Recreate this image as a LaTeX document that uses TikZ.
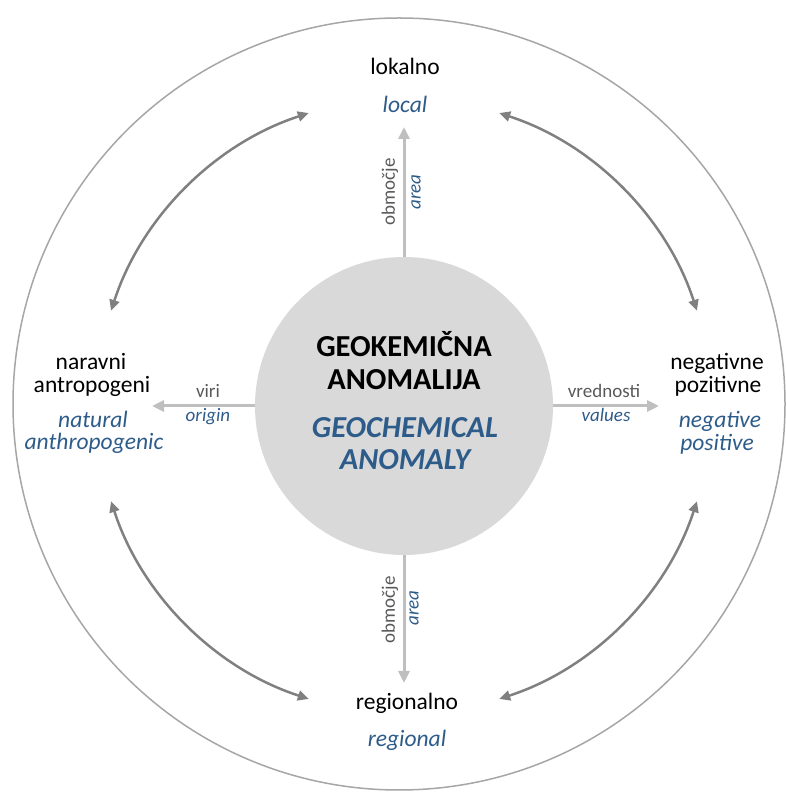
\documentclass[tikz,border=0pt]{standalone}
\usepackage{fontspec}
\setmainfont{Carlito}
\usetikzlibrary{arrows.meta,calc}
\definecolor{engblue}{RGB}{46,92,138}
\definecolor{smallgray}{RGB}{89,89,89}
\definecolor{lightarrow}{RGB}{191,191,191}
\definecolor{darkarrow}{RGB}{128,128,128}
\definecolor{corefill}{RGB}{217,217,217}
\definecolor{ringcol}{RGB}{166,166,166}
\tikzset{
  sl/.style={anchor=base, inner sep=0pt, text=black, font=\fontsize{23.5}{28}\selectfont},
  en/.style={anchor=base, inner sep=0pt, text=engblue, font=\fontsize{23.5}{28}\selectfont\itshape},
  smsl/.style={anchor=base, inner sep=0pt, text=smallgray, font=\fontsize{19}{23}\selectfont},
  smen/.style={anchor=base, inner sep=0pt, text=engblue, font=\fontsize{19}{23}\selectfont\itshape},
  rotsl/.style={inner sep=0pt, text=smallgray, font=\fontsize{19}{23}\selectfont, rotate=90},
  roten/.style={inner sep=0pt, text=engblue, font=\fontsize{19}{23}\selectfont\itshape, rotate=90},
  coresl/.style={anchor=base, inner sep=0pt, text=black, font=\fontsize{30.5}{34}\selectfont\bfseries},
  coreen/.style={anchor=base, inner sep=0pt, text=engblue, font=\fontsize{30.5}{34}\selectfont\bfseries\itshape},
  straightarrow/.style={draw=lightarrow, line width=3pt, -{Triangle[length=12pt,width=11pt]}},
  curvearrow/.style={draw=darkarrow, line width=2.5pt, {Triangle[length=11pt,width=10pt]}-{Triangle[length=11pt,width=10pt]}},
}
\begin{document}
\begin{tikzpicture}[x=1pt,y=1pt]
\useasboundingbox (0,0) rectangle (786,792);
% outer ring
\draw[ringcol, line width=1.5pt] (399,388) circle[radius=386];
% core
\coordinate (C) at (404,386);
\node[circle, fill=corefill, minimum size=298pt, inner sep=0pt] (core) at (C) {};
\node[coresl] (c1) at (404,435) {GEOKEMIČNA};
\node[coresl] (c2) at (404,402) {ANOMALIJA};
\node[coreen] (c3) at (405,354) {GEOCHEMICAL};
\node[coreen] (c4) at (405,322) {ANOMALY};
% top
\node[sl] (lok) at (405,717) {lokalno};
\node[en] (loc) at (405,679) {local};
\coordinate (uptip) at (404,665);
\draw[straightarrow] (core.north) -- (uptip);
\node[rotsl] (obm1) at (390,600) {območje};
\node[roten] (area1) at (416,600) {area};
% bottom
\node[sl] (reg) at (407,82) {regionalno};
\node[en] (regen) at (407,45) {regional};
\coordinate (downtip) at (404,109);
\draw[straightarrow] (core.south) -- (downtip);
\node[rotsl] (obm2) at (390,182) {območje};
\node[roten] (area2) at (414,184) {area};
% left
\node[sl] (nar) at (91,422) {naravni};
\node[sl] (ant) at (92,399) {antropogeni};
\node[en] (nat) at (93,364) {natural};
\node[en] (anth) at (94,342) {anthropogenic};
\coordinate (lefttip) at (152,386);
\draw[straightarrow] (core.west) -- (lefttip);
\node[smsl] (viri) at (208,394) {viri};
\node[smen] (orig) at (208,370) {origin};
% right
\node[sl] (neg) at (717,422) {negativne};
\node[sl] (poz) at (718,399) {pozitivne};
\node[en] (nege) at (720,364) {negative};
\node[en] (pose) at (717,341) {positive};
\coordinate (righttip) at (659,386);
\draw[straightarrow] (core.east) -- (righttip);
\node[smsl] (vred) at (604,394) {vrednosti};
\node[smen] (val) at (606,370) {values};
% curved double arrows
\coordinate (tlA) at ($(C)+(108:308)$);
\coordinate (trA) at ($(C)+(18:308)$);
\coordinate (blA) at ($(C)+(198:308)$);
\coordinate (brA) at ($(C)+(288:308)$);
\draw[curvearrow] (tlA) arc[start angle=108, end angle=162, radius=308];
\draw[curvearrow] (trA) arc[start angle=18, end angle=72, radius=308];
\draw[curvearrow] (blA) arc[start angle=198, end angle=252, radius=308];
\draw[curvearrow] (brA) arc[start angle=288, end angle=342, radius=308];
\end{tikzpicture}
\end{document}
